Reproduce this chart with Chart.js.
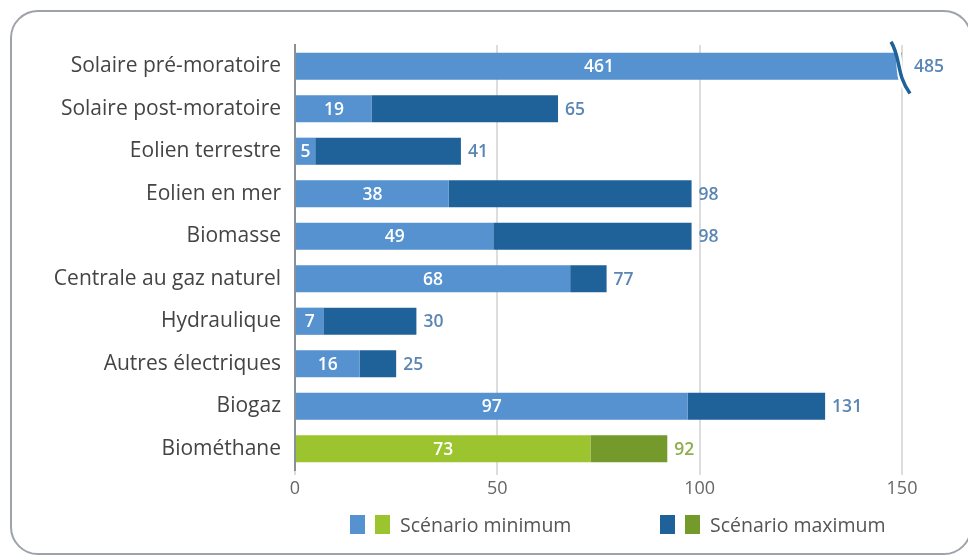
<!DOCTYPE html>
<html>
<head>
<meta charset="utf-8">
<script src="https://cdn.jsdelivr.net/npm/chart.js@4.4.1/dist/chart.umd.min.js"></script>
<style>
  html, body { margin: 0; padding: 0; background: #ffffff; }
  #wrap { position: relative; width: 968px; height: 556px; overflow: hidden; }
  #frame { position: absolute; left: 10px; top: 10px; width: 962px; height: 545px;
           border: 2px solid #9ea3aa; border-radius: 28px; box-sizing: border-box; }
  canvas { position: absolute; left: 0; top: 0; }
  .leg { position: absolute; top: 514px; height: 20px; display: flex; align-items: center;
         font-family: "Open Sans", sans-serif; font-size: 19.5px; color: #555; }
  .sw { width: 15px; height: 19px; margin-right: 10px; }
</style>
</head>
<body>
<div id="wrap">
  <div id="frame"></div>
  <canvas id="c" width="968" height="556"></canvas>
  <div class="leg" style="left:350px">
    <div class="sw" style="background:#5592cf"></div>
    <div class="sw" style="background:#9bc42f"></div>
    <span>Scénario minimum</span>
  </div>
  <div class="leg" style="left:660px">
    <div class="sw" style="background:#1f6299"></div>
    <div class="sw" style="background:#739a2a"></div>
    <span>Scénario maximum</span>
  </div>
</div>
<script>
const categories = ["Solaire pré-moratoire", "Solaire post-moratoire", "Eolien terrestre", "Eolien en mer",
  "Biomasse", "Centrale au gaz naturel", "Hydraulique", "Autres électriques", "Biogaz", "Biométhane"];
const minValues = [461, 19, 5, 38, 49, 68, 7, 16, 97, 73];
const maxValues = [485, 65, 41, 98, 98, 77, 30, 25, 131, 92];
const xTicks = [0, 50, 100, 150];

const minColors = categories.map((c, i) => i === categories.length - 1 ? "#9bc42f" : "#5592cf");
const maxColors = categories.map((c, i) => i === categories.length - 1 ? "#739a2a" : "#1f6299");
const maxLabelColors = categories.map((c, i) => i === categories.length - 1 ? "#8fae4c" : "#5a86b4");
const extraValues = maxValues.map((v, i) => v - minValues[i]);

const FONT = '"Open Sans", sans-serif';

const labelPlugin = {
  id: "labels",
  afterDatasetsDraw(chart) {
    const ctx = chart.ctx;
    const area = chart.chartArea;
    const m0 = chart.getDatasetMeta(0);
    const m1 = chart.getDatasetMeta(1);
    ctx.save();
    ctx.textBaseline = "middle";
    ctx.font = "600 17.5px " + FONT;
    categories.forEach((c, i) => {
      const b0 = m0.data[i];
      const b1 = m1.data[i];
      const left = Math.max(area.left, b0.base);
      const right = Math.min(area.right, b0.x);
      ctx.fillStyle = "#ffffff";
      ctx.textAlign = "center";
      ctx.fillText(String(minValues[i]), (left + right) / 2, b0.y + 1);
      const endX = Math.min(area.right, b1.x);
      ctx.fillStyle = maxLabelColors[i];
      ctx.textAlign = "left";
      ctx.fillText(String(maxValues[i]), endX + (b1.x > area.right ? 12 : 7), b1.y + 1);
      if (b0.x > area.right || b1.x > area.right) {
        // axis break marker
        const x = area.right - 4;
        const h = b0.height;
        ctx.strokeStyle = "#ffffff";
        ctx.lineWidth = 6;
        ctx.beginPath();
        ctx.moveTo(x - 4, b0.y - h * 0.95);
        ctx.bezierCurveTo(x + 6, b0.y - h * 0.3, x - 4, b0.y + h * 0.3, x + 10, b0.y + h * 0.95);
        ctx.stroke();
        ctx.strokeStyle = "#1f6299";
        ctx.lineWidth = 3.5;
        ctx.beginPath();
        ctx.moveTo(x - 7, b0.y - h * 0.9);
        ctx.bezierCurveTo(x + 3, b0.y - h * 0.3, x - 2, b0.y + h * 0.3, x + 12, b0.y + h * 1.0);
        ctx.stroke();
      }
    });
    ctx.restore();
  }
};

new Chart(document.getElementById("c"), {
  type: "bar",
  data: {
    labels: categories,
    datasets: [
      { label: "Scénario minimum", data: minValues, backgroundColor: minColors,
        barPercentage: 0.64, categoryPercentage: 1.0, borderWidth: 0 },
      { label: "Scénario maximum", data: extraValues, backgroundColor: maxColors,
        barPercentage: 0.64, categoryPercentage: 1.0, borderWidth: 0 }
    ]
  },
  options: {
    indexAxis: "y",
    responsive: false,
    animation: false,
    layout: { padding: { left: 0, right: 66, top: 45, bottom: 46 } },
    plugins: { legend: { display: false }, tooltip: { enabled: false } },
    scales: {
      x: {
        stacked: true,
        min: 0, max: 150,
        afterBuildTicks(scale) { scale.ticks = xTicks.map(v => ({ value: v })); },
        afterFit(scale) { scale.height = 40; },
        grid: { color: "#dddddd", lineWidth: 2, drawTicks: true, tickLength: 5, tickColor: "#dddddd" },
        border: { display: false },
        ticks: { color: "#666666", font: { family: FONT, size: 18 }, padding: 3 }
      },
      y: {
        stacked: true,
        afterFit(scale) { scale.width = 295; },
        grid: { display: false },
        border: { display: true, color: "#8a9097", width: 2 },
        ticks: { color: "#444444", font: { family: FONT, size: 21 }, padding: 6 }
      }
    }
  },
  plugins: [labelPlugin]
});
</script>
</body>
</html>
